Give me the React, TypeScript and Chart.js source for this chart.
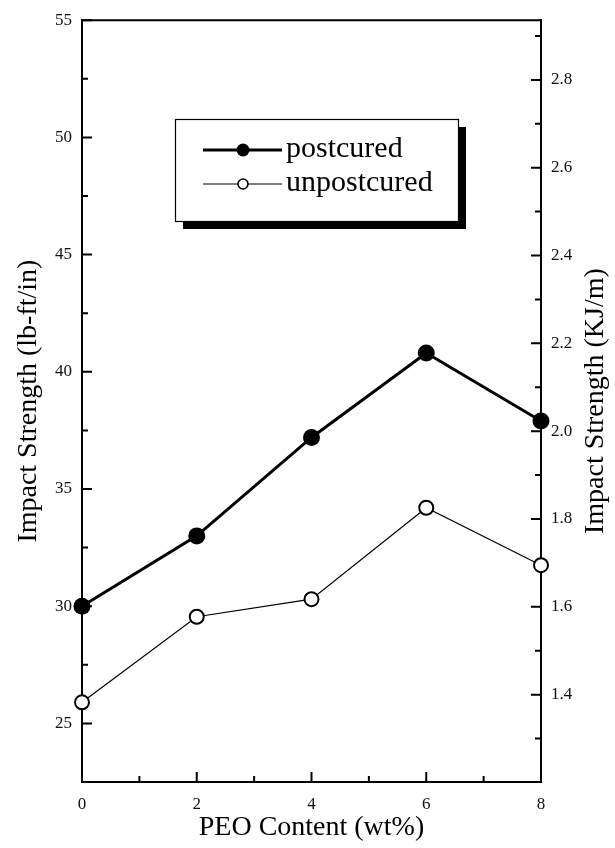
import React, { useEffect, useRef } from 'react';
import { Chart, registerables } from 'chart.js';

Chart.register(...registerables);

// ---- data ----
const peoContent = [0, 2, 4, 6, 8];
const postcured = [30.0, 33.0, 37.2, 40.8, 37.9];
const unpostcured = [25.9, 29.55, 30.3, 34.2, 31.75];
const seriesLabels = ['postcured', 'unpostcured'];

// ---- tick values ----
const xMajorTicks = [0, 2, 4, 6, 8];
const xMinorTicks = [1, 3, 5, 7];
const leftMajorTicks = [25, 30, 35, 40, 45, 50, 55];
const leftMinorTicks = [27.5, 32.5, 37.5, 42.5, 47.5, 52.5];
const rightMajorTicks = [1.4, 1.6, 1.8, 2.0, 2.2, 2.4, 2.6, 2.8];
const rightMinorTicks = [1.3, 1.5, 1.7, 1.9, 2.1, 2.3, 2.5, 2.7, 2.9];

const LEFT_MIN = 22.5;
const LEFT_MAX = 55;
const KJM_PER_LBFTIN = 0.05338;

const FONT = "'Liberation Serif', 'Times New Roman', serif";

const frameAndTicks = {
  id: 'frameAndTicks',
  beforeDatasetsDraw(chart: any) {
    const { ctx, chartArea: a, scales } = chart;
    ctx.save();
    ctx.strokeStyle = '#000';
    ctx.lineWidth = 2;
    // top frame line
    ctx.beginPath();
    ctx.moveTo(a.left - 1, a.top);
    ctx.lineTo(a.right + 1, a.top);
    ctx.stroke();
    const major = 10;
    const minor = 6;
    ctx.beginPath();
    const xs = scales.x;
    xMajorTicks.forEach((v) => {
      const p = xs.getPixelForValue(v);
      ctx.moveTo(p, a.bottom);
      ctx.lineTo(p, a.bottom - major);
    });
    xMinorTicks.forEach((v) => {
      const p = xs.getPixelForValue(v);
      ctx.moveTo(p, a.bottom);
      ctx.lineTo(p, a.bottom - minor);
    });
    const ys = scales.y;
    leftMajorTicks.forEach((v) => {
      const p = ys.getPixelForValue(v);
      ctx.moveTo(a.left, p);
      ctx.lineTo(a.left + major, p);
    });
    leftMinorTicks.forEach((v) => {
      const p = ys.getPixelForValue(v);
      ctx.moveTo(a.left, p);
      ctx.lineTo(a.left + minor, p);
    });
    const y2 = scales.y2;
    rightMajorTicks.forEach((v) => {
      const p = y2.getPixelForValue(v);
      ctx.moveTo(a.right, p);
      ctx.lineTo(a.right - major, p);
    });
    rightMinorTicks.forEach((v) => {
      const p = y2.getPixelForValue(v);
      ctx.moveTo(a.right, p);
      ctx.lineTo(a.right - minor, p);
    });
    ctx.stroke();

    // right axis title (reads bottom-to-top)
    ctx.fillStyle = '#000';
    ctx.font = `28px ${FONT}`;
    ctx.textAlign = 'center';
    ctx.textBaseline = 'middle';
    ctx.translate(596, (a.top + a.bottom) / 2);
    ctx.rotate(-Math.PI / 2);
    ctx.fillText('Impact Strength (KJ/m)', 0, 0);
    ctx.restore();
  },
};

const boxLegend = {
  id: 'boxLegend',
  afterDatasetsDraw(chart: any) {
    const { ctx } = chart;
    const bx = 175;
    const by = 119;
    const bw = 283;
    const bh = 102;
    const sh = 8;
    ctx.save();
    ctx.fillStyle = '#000';
    ctx.fillRect(bx + sh, by + sh, bw, bh);
    ctx.fillStyle = '#fff';
    ctx.fillRect(bx, by, bw, bh);
    ctx.strokeStyle = '#000';
    ctx.lineWidth = 1.2;
    ctx.strokeRect(bx + 0.5, by + 0.5, bw, bh);

    const rows = [150, 184];
    const legendRadius = [6.5, 5];
    chart.data.datasets.forEach((ds: any, i: number) => {
      const ly = rows[i];
      ctx.strokeStyle = ds.borderColor;
      ctx.lineWidth = ds.borderWidth;
      ctx.beginPath();
      ctx.moveTo(bx + 28, ly);
      ctx.lineTo(bx + 107, ly);
      ctx.stroke();
      ctx.beginPath();
      ctx.arc(bx + 68, ly, legendRadius[i], 0, Math.PI * 2);
      ctx.fillStyle = ds.pointBackgroundColor;
      ctx.fill();
      if (ds.pointBorderWidth) {
        ctx.lineWidth = 1.6;
        ctx.strokeStyle = ds.pointBorderColor;
        ctx.stroke();
      }
      ctx.fillStyle = '#000';
      ctx.font = `30px ${FONT}`;
      ctx.textAlign = 'left';
      ctx.textBaseline = 'alphabetic';
      ctx.fillText(ds.label, bx + 111, ly + 7);
    });
    ctx.restore();
  },
};

export default function App() {
  const ref = useRef<HTMLCanvasElement | null>(null);

  useEffect(() => {
    if (!ref.current) return;
    Chart.defaults.font.family = FONT;
    const chart = new Chart(ref.current, {
      type: 'line',
      data: {
        datasets: [
          {
            label: seriesLabels[0],
            data: peoContent.map((x, i) => ({ x, y: postcured[i] })),
            borderColor: '#000',
            borderWidth: 3,
            pointRadius: 8.5,
            pointHoverRadius: 8.5,
            pointBackgroundColor: '#000',
            pointBorderColor: '#000',
            pointBorderWidth: 0,
            clip: false,
            yAxisID: 'y',
          } as any,
          {
            label: seriesLabels[1],
            data: peoContent.map((x, i) => ({ x, y: unpostcured[i] })),
            borderColor: '#000',
            borderWidth: 1.2,
            pointRadius: 7,
            pointHoverRadius: 7,
            pointBackgroundColor: '#fff',
            pointBorderColor: '#000',
            pointBorderWidth: 2,
            clip: false,
            yAxisID: 'y',
          } as any,
        ],
      },
      options: {
        responsive: false,
        animation: false,
        layout: { padding: { top: 15, left: 0, right: 0, bottom: 0 } },
        plugins: {
          legend: { display: false },
          tooltip: { enabled: false },
        },
        scales: {
          x: {
            type: 'linear',
            min: 0,
            max: 8,
            afterBuildTicks: (s: any) => {
              s.ticks = xMajorTicks.map((v) => ({ value: v }));
            },
            afterFit: (s: any) => {
              s.height = 66;
            },
            grid: { display: false, drawTicks: false },
            border: { display: true, width: 2, color: '#000' },
            ticks: {
              padding: 12,
              color: '#111',
              font: { size: 17, family: FONT },
              autoSkip: false,
              maxRotation: 0,
              callback: (v: any) => String(v),
            },
            title: {
              display: true,
              text: 'PEO Content (wt%)',
              color: '#000',
              font: { size: 28, family: FONT },
              padding: { top: 0, bottom: 4 },
            },
          },
          y: {
            type: 'linear',
            position: 'left',
            min: LEFT_MIN,
            max: LEFT_MAX,
            afterBuildTicks: (s: any) => {
              s.ticks = leftMajorTicks.map((v) => ({ value: v }));
            },
            afterFit: (s: any) => {
              s.width = 82;
            },
            grid: { display: false, drawTicks: false },
            border: { display: true, width: 2, color: '#000' },
            ticks: {
              padding: 10,
              color: '#111',
              font: { size: 17, family: FONT },
              autoSkip: false,
              callback: (v: any) => String(v),
            },
            title: {
              display: true,
              text: 'Impact Strength (lb-ft/in)',
              color: '#000',
              font: { size: 28, family: FONT },
              padding: { top: 12, bottom: 0 },
            },
          },
          y2: {
            type: 'linear',
            position: 'right',
            min: LEFT_MIN * KJM_PER_LBFTIN,
            max: LEFT_MAX * KJM_PER_LBFTIN,
            afterBuildTicks: (s: any) => {
              s.ticks = rightMajorTicks.map((v) => ({ value: v }));
            },
            afterFit: (s: any) => {
              s.width = 74;
            },
            grid: { display: false, drawTicks: false },
            border: { display: true, width: 2, color: '#000' },
            ticks: {
              padding: 10,
              color: '#111',
              font: { size: 17, family: FONT },
              autoSkip: false,
              callback: (v: any) => Number(v).toFixed(1),
            },
          },
        },
      } as any,
      plugins: [frameAndTicks, boxLegend],
    });
    return () => chart.destroy();
  }, []);

  return (
    <div style={{ position: 'absolute', left: 0, top: 0, width: 615, height: 848, background: '#fff' }}>
      <canvas ref={ref} width={615} height={848} />
    </div>
  );
}
